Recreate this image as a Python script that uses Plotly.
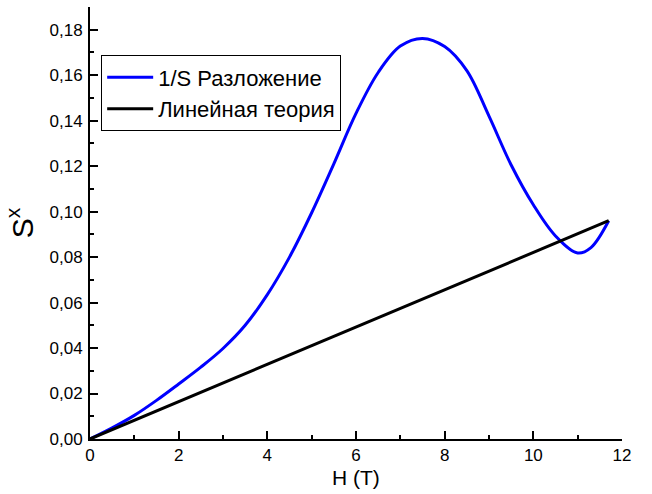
import plotly.graph_objects as go

# 1/S expansion curve (blue)
h_blue = [0.0, 0.5, 1.0, 1.5, 2.0, 2.5, 3.0, 3.5, 4.0, 4.5, 5.0, 5.5, 6.0, 6.5, 7.0,
          7.5, 8.0, 8.5, 9.0, 9.5, 10.0, 10.5, 11.0, 11.3, 11.7]
s_blue = [0.0, 0.0049, 0.0104, 0.0170, 0.0242, 0.0316, 0.0398, 0.0500, 0.0635,
          0.0800, 0.0995, 0.1210, 0.1432, 0.1612, 0.1728, 0.1762, 0.1726, 0.1620,
          0.1420, 0.1205, 0.1030, 0.0893, 0.0818, 0.0842, 0.0960]

# Linear theory (black)
h_black = [0.0, 11.7]
s_black = [0.0, 0.0960]

x_ticks = [0, 2, 4, 6, 8, 10, 12]
y_ticks = [0.00, 0.02, 0.04, 0.06, 0.08, 0.10, 0.12, 0.14, 0.16, 0.18]

fig = go.Figure()
fig.add_trace(go.Scatter(x=h_blue, y=s_blue, mode="lines", name="1/S Разложение",
                         line=dict(color="#0000FF", width=3, shape="spline", smoothing=1.0)))
fig.add_trace(go.Scatter(x=h_black, y=s_black, mode="lines", name="Линейная теория",
                         line=dict(color="#000000", width=3)))

font_family = "Liberation Sans, Arial, sans-serif"

fig.update_layout(
    width=652, height=494,
    margin=dict(l=90, r=30, t=7, b=55, autoexpand=False),
    paper_bgcolor="white", plot_bgcolor="white",
    separators=", ",
    font=dict(family=font_family, color="black", size=17),
    showlegend=True,
    legend=dict(x=0.021, y=0.888, xanchor="left", yanchor="top",
                bordercolor="black", borderwidth=1, bgcolor="white",
                font=dict(size=22, family=font_family), tracegroupgap=0,
                itemwidth=46),
    xaxis=dict(range=[0, 12], tickvals=x_ticks, ticktext=[str(v) for v in x_ticks],
               showline=True, linecolor="black", linewidth=2, mirror=False,
               ticks="inside", ticklen=8, tickwidth=2, tickcolor="black",
               minor=dict(dtick=1, ticks="inside", ticklen=4, tickwidth=2, tickcolor="black"),
               showgrid=False, zeroline=False, automargin=False,
               tickfont=dict(size=17)),
    yaxis=dict(range=[0, 0.19], tickvals=y_ticks, tickformat=".2f",
               showline=True, linecolor="black", linewidth=2, mirror=False,
               ticks="inside", ticklen=8, tickwidth=2, tickcolor="black",
               minor=dict(dtick=0.01, ticks="inside", ticklen=4, tickwidth=2, tickcolor="black"),
               showgrid=False, zeroline=False, automargin=False,
               tickfont=dict(size=17), ticklabelstandoff=2,
               title=dict(text="S<sup>x</sup>", font=dict(size=30), standoff=7)),
    annotations=[dict(text="H (T)", xref="paper", yref="paper", x=0.5, y=-0.09,
                      xanchor="center", yanchor="middle", showarrow=False,
                      font=dict(size=21, family=font_family, color="black"))],
)

fig.write_html("out.html", config={"displayModeBar": False},
               post_script="document.body.style.margin='0px';")
